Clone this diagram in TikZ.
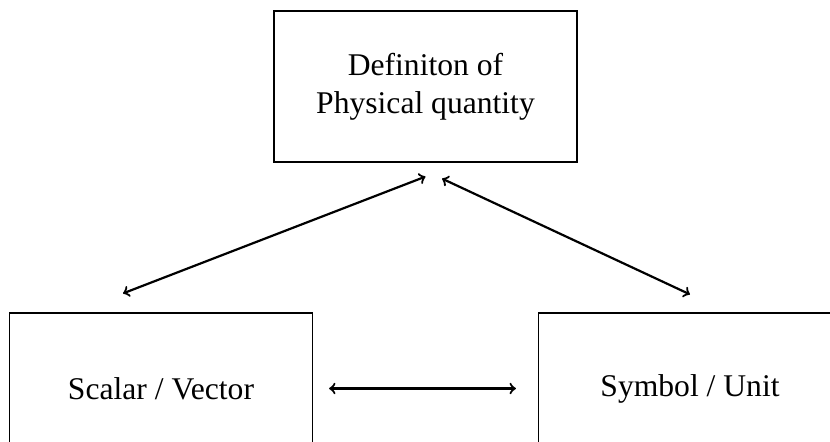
\documentclass[tikz,border=0pt]{standalone}
\usepackage{fontspec}
\setmainfont{Liberation Serif}
\begin{document}
\begin{tikzpicture}[
   x=0.5pt, y=-0.5pt,
   box/.style={rectangle, draw, line width=0.6pt, minimum width=151.5pt, minimum height=75.5pt, align=center, font=\fontsize{15.8}{19}\selectfont},
   arrow/.style={<->, line width=1.1pt}
]
\useasboundingbox (0,0) rectangle (830,441);
\clip (0,0) rectangle (830,441);
% Nodes
\node[box] (def) at (425.5,86.5) {Definiton of\\Physical quantity};
\node[box] (sv) at (161,388.5) {Scalar / Vector};
\node[box] (su) at (690,388.5) {Symbol / Unit};

% Edges
\draw[arrow] ([yshift=-7pt]def.south) -- ([xshift=-19pt,yshift=9.5pt]sv.north);
\draw[arrow] ([xshift=8.25pt,yshift=-8pt]def.south) -- ([yshift=9pt]su.north);
\draw[arrow] ([xshift=8pt]sv.east) -- ([xshift=-11pt]su.west);

\end{tikzpicture}
\end{document}
